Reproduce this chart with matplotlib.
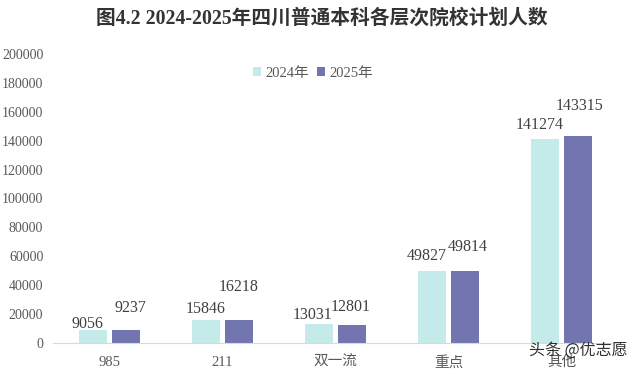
import matplotlib
matplotlib.use("Agg")
import matplotlib.pyplot as plt
import numpy as np

categories = ["985", "211", "双一流", "重点", "其他"]
series_names = ["2024年", "2025年"]
values_2024 = [9056, 15846, 13031, 49827, 141274]
values_2025 = [9237, 16218, 12801, 49814, 143315]
y_ticks = [0, 20000, 40000, 60000, 80000, 100000, 120000, 140000, 160000, 180000, 200000]
title = "图4.2 2024-2025年四川普通本科各层次院校计划人数"

# label offsets (pixels) relative to bar top centre (style)
dy_2024 = [-2.5, 3.5, 1.5, 6.5, 5.5]
dy_2025 = [13.5, 24.5, 9.5, 16.5, 21.5]
dx_2024 = [-6, 0, -6.5, -5, -5]
dx_2025 = [4.5, 0, -1, 2.5, 1.5]

fonts = ["Liberation Serif", "Noto Sans CJK SC", "DejaVu Sans"]
plt.rcParams["font.family"] = fonts

c24 = "#C4EBE9"
c25 = "#7275B0"

fig = plt.figure(figsize=(6.4, 3.73), dpi=100)
ax = fig.add_axes([53/640, 1-343/373, (618-53)/640, (343-54)/373])

x = np.arange(len(categories))
w = 0.24
d = 0.146
b1 = ax.bar(x - d, values_2024, w, color=c24, label=series_names[0], zorder=2)
b2 = ax.bar(x + d, values_2025, w, color=c25, label=series_names[1], zorder=2)

for rects, vals, dys, dxs in ((b1, values_2024, dy_2024, dx_2024),
                              (b2, values_2025, dy_2025, dx_2025)):
    for r, v, oy, ox in zip(rects, vals, dys, dxs):
        ax.annotate(f"{v}", (r.get_x() + r.get_width()/2, r.get_height()),
                    xytext=(ox, oy), textcoords="offset pixels",
                    ha="center", va="bottom", fontsize=11.5, color="#404040")

ax.set_xlim(-0.5, len(categories) - 0.5)
ax.set_ylim(0, 200000)
ax.set_yticks(y_ticks)
ax.set_yticklabels([str(t) for t in y_ticks], fontsize=10, color="#595959")
ax.set_xticks(x)
ax.set_xticklabels(categories, fontsize=10.5, color="#595959")
ax.tick_params(axis="both", length=0)
ax.tick_params(axis="y", pad=7)
ax.tick_params(axis="x", pad=9)
for s in ("top", "right", "left"):
    ax.spines[s].set_visible(False)
ax.spines["bottom"].set_color("#D9D9D9")

fig.text(321.5/640, 1-19/373, title, ha="center", va="center", fontsize=14.2,
         fontweight="bold", color="#333333")

leg = fig.legend(loc="center", bbox_to_anchor=(313/640, 1-73/373), ncol=2, frameon=False,
                 fontsize=10.5, handlelength=0.6, handleheight=0.6, handletextpad=0.3,
                 columnspacing=0.5, labelcolor="#595959")

fig.text(628/640, 1-350/373, "头条 @优志愿", ha="right", va="center", fontsize=11.5,
         family=["Noto Sans CJK SC", "DejaVu Sans"], color="#303030", zorder=10)

fig.savefig("out.png", dpi=100)
